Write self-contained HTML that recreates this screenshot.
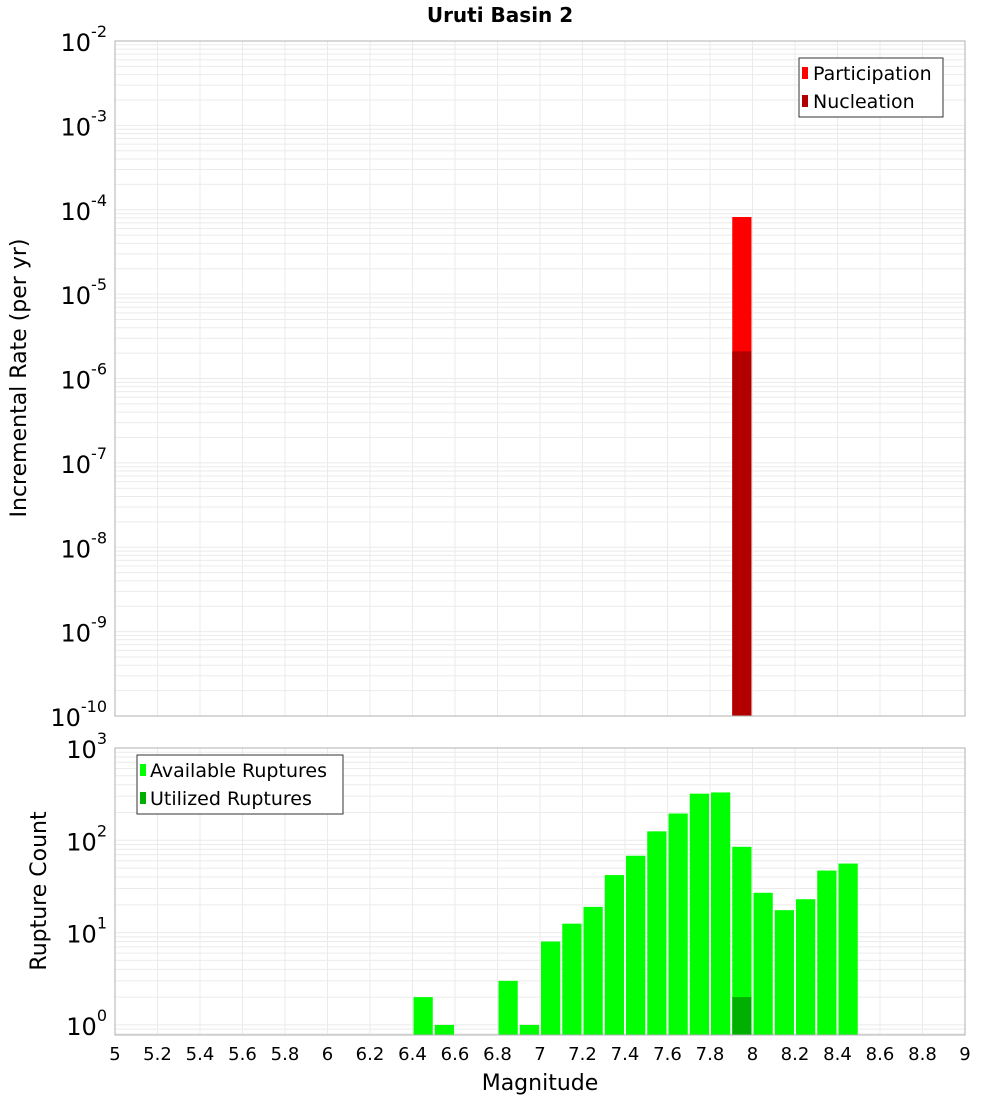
<!DOCTYPE html>
<html><head><meta charset="utf-8">
<style>
body{margin:0;background:#fff;font-family:"DejaVu Sans","Liberation Sans",sans-serif;}
</style></head>
<body>
<svg id="chart" width="1000" height="1100" xmlns="http://www.w3.org/2000/svg" font-family="DejaVu Sans, Liberation Sans, sans-serif">
<text x="500" y="22" text-anchor="middle" font-size="20" font-weight="bold">Uruti Basin 2</text>
<g id="topPlot"></g>
<g id="botPlot"></g>
<text transform="translate(26,378) rotate(-90)" text-anchor="middle" font-size="22">Incremental Rate (per yr)</text>
<text transform="translate(46,891) rotate(-90)" text-anchor="middle" font-size="22">Rupture Count</text>
<text x="540" y="1090" text-anchor="middle" font-size="22">Magnitude</text>
<g>
<rect x="799" y="58" width="144" height="59" fill="#fff" stroke="#333"/>
<rect x="802" y="67" width="6" height="12" fill="#ff0000"/>
<text x="813" y="80" font-size="19">Participation</text>
<rect x="802" y="95" width="6" height="12" fill="#b20000"/>
<text x="813" y="108" font-size="19">Nucleation</text>
</g>
<g>
<rect x="137" y="755" width="206" height="59" fill="#fff" stroke="#333"/>
<rect x="140" y="764" width="6" height="12" fill="#00ff00"/>
<text x="150" y="777" font-size="19">Available Ruptures</text>
<rect x="140" y="792" width="6" height="12" fill="#00b000"/>
<text x="150" y="805" font-size="19">Utilized Ruptures</text>
</g>
</svg>
<script>
const binCenters=[6.45,6.55,6.85,6.95,7.05,7.15,7.25,7.35,7.45,7.55,7.65,7.75,7.85,7.95,8.05,8.15,8.25,8.35,8.45];
const availableCounts=[2,1,3,1,8,12.5,19,42,68,125,195,320,330,85,27,17.5,23,47,56];
const utilizedCenters=[7.95];
const utilizedCounts=[2];
const rateCenters=[7.95];
const participationRates=[8.2e-5];
const nucleationRates=[2.1e-6];
const xTicks=[5,5.2,5.4,5.6,5.8,6,6.2,6.4,6.6,6.8,7,7.2,7.4,7.6,7.8,8,8.2,8.4,8.6,8.8,9];
const topExps=[-2,-3,-4,-5,-6,-7,-8,-9,-10];
const botExps=[3,2,1,0];
const NS="http://www.w3.org/2000/svg";
const X0=115,X1=965;
const xS=v=>X0+(v-5)/4*(X1-X0);
const TT=41,TB=716;
const yTop=v=>TT+(-2-Math.log10(v))*(TB-TT)/8;
const BT=748,BB=1035,BD=92.3;
const yBot=v=>BT+(3-Math.log10(v))*BD;
function mk(tag,attrs,parent){const e=document.createElementNS(NS,tag);for(const k in attrs)e.setAttribute(k,attrs[k]);parent.appendChild(e);return e;}
const topG=document.getElementById('topPlot'),botG=document.getElementById('botPlot');
function frame(g,t,b,yf,exps,name){
  mk('rect',{x:X0,y:t,width:X1-X0,height:b-t,fill:'#fff'},g);
  xTicks.forEach(v=>{mk('line',{x1:xS(v),x2:xS(v),y1:t,y2:b,stroke:'#ebebeb'},g);});
  for(let i=0;i<exps.length;i++){
    const e=exps[i];
    for(let m=1;m<10;m++){const yy=yf(m*Math.pow(10,e));if(yy>=t&&yy<=b)mk('line',{x1:X0,x2:X1,y1:yy,y2:yy,stroke:'#ebebeb'},g);}
    const yy=yf(Math.pow(10,e));
    const tx=mk('text',{x:X0-8,y:yy+10,'text-anchor':'end','font-size':'24'},g);
    
    
    tx.textContent='10';
    const sp=mk('tspan',{dy:'-14','font-size':'16'},tx);sp.textContent=String(e);
  }
}
frame(topG,TT,TB,yTop,topExps,'top-y');
frame(botG,BT,BB,yBot,botExps,'bottom-y');
[0.8,0.9].forEach(m=>{const yy=yBot(m);if(yy<=BB)mk('line',{x1:X0,x2:X1,y1:yy,y2:yy,stroke:'#ebebeb'},botG);});
function bars(g,centers,vals,yf,base,color,name){
  centers.forEach((c,i)=>{
    const y0=yf(vals[i]);
    const r=mk('rect',{x:xS(c-0.05)+1,y:y0,width:xS(c+0.05)-xS(c-0.05)-2,height:Math.max(0,base-y0),fill:color},g);
    
    
  });
}
bars(topG,rateCenters,participationRates,yTop,TB,'#ff0000','participation-bar');
bars(topG,rateCenters,nucleationRates,yTop,TB,'#b20000','nucleation-bar');
bars(botG,binCenters,availableCounts,yBot,BB,'#00ff00','available-bar');
bars(botG,utilizedCenters,utilizedCounts,yBot,BB,'#00b000','utilized-bar');
mk('rect',{x:X0,y:TT,width:X1-X0,height:TB-TT,fill:'none',stroke:'#b0b0b0'},topG);
mk('rect',{x:X0,y:BT,width:X1-X0,height:BB-BT,fill:'none',stroke:'#b0b0b0'},botG);
xTicks.forEach(v=>{
  const t=mk('text',{x:xS(v),y:1060,'text-anchor':'middle','font-size':'18'},botG);
  
  
  t.textContent=String(v);
});
</script>
</body></html>
